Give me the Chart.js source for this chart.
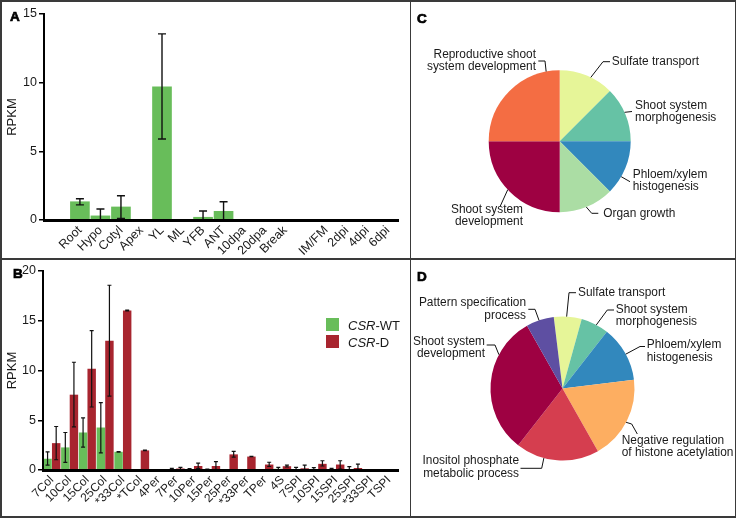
<!DOCTYPE html>
<html>
<head>
<meta charset="utf-8">
<script src="https://cdn.jsdelivr.net/npm/chart.js@4"></script>
<style>
  body { margin: 0; background: #fff; }
  #fig { position: relative; width: 737px; height: 519px; font-family: "Liberation Sans", Arial, sans-serif; color: #1a1a1a; }
  #fig canvas { position: absolute; }
  .rule { position: absolute; background: #3a3a3a; }
  .letter { position: absolute; font-weight: 900; font-size: 13.5px; line-height: 13px; -webkit-text-stroke: 0.7px #000; color: #000; }
  .key { position: absolute; font-size: 13px; line-height: 13px; }
  .key i { font-style: italic; }
  .swatch { position: absolute; width: 13px; height: 13px; }
</style>
</head>
<body>
<div id="fig">
  <canvas id="chartA" width="409" height="258" style="left:0;top:0"></canvas>
  <canvas id="chartB" width="409" height="258" style="left:0;top:259px"></canvas>
  <canvas id="chartC" width="324" height="258" style="left:411px;top:0"></canvas>
  <canvas id="chartD" width="324" height="258" style="left:411px;top:259px"></canvas>

  <div class="rule" style="left:0;top:0;width:736px;height:1.5px"></div>
  <div class="rule" style="left:0;top:0;width:1.5px;height:518px"></div>
  <div class="rule" style="left:734.5px;top:0;width:1.5px;height:518px"></div>
  <div class="rule" style="left:0;top:516px;width:736px;height:1.5px"></div>
  <div class="rule" style="left:409.5px;top:0;width:1.5px;height:518px"></div>
  <div class="rule" style="left:0;top:258px;width:736px;height:1.5px"></div>

  <div class="letter" style="left:10px;top:9.5px">A</div>
  <div class="letter" style="left:13px;top:266.5px">B</div>
  <div class="letter" style="left:417px;top:11.5px">C</div>
  <div class="letter" style="left:417px;top:270px">D</div>

  <div class="swatch" style="left:326px;top:318px;background:#68bd5a"></div>
  <div class="key" style="left:348px;top:318.5px"><i>CSR</i>-WT</div>
  <div class="swatch" style="left:326px;top:335px;background:#a8252f"></div>
  <div class="key" style="left:348px;top:335.5px"><i>CSR</i>-D</div>
</div>

<script>
// panel A: expression across tissues
const tissues = ['Root', 'Hypo', 'Cotyl', 'Apex', 'YL', 'ML', 'YFB', 'ANT', '10dpa', '20dpa', 'Break', '', 'IM/FM', '2dpi', '4dpi', '6dpi'];
const tissueValues = [1.33, 0.3, 0.95, 0, 9.7, 0, 0.2, 0.63, 0, 0, 0, 0, 0, 0, 0, 0];
const tissueLow = [1.1, 0, 0.12, null, 5.9, null, 0, 0, null, null, null, null, null, null, null, null];
const tissueHigh = [1.55, 0.8, 1.77, null, 13.55, null, 0.65, 1.33, null, null, null, null, null, null, null, null];
const rpkmTicksA = [0, 5, 10, 15];

// panel B: stages, CSR-WT vs CSR-D
const stages = ['7Col', '10Col', '15Col', '25Col', '*33Col', '*TCol', '4Per', '7Per', '10Per', '15Per', '25Per', '*33Per', 'TPer', '4S', '7SPI', '10SPI', '15SPI', '25SPI', '*33SPI', 'TSPI'];
const wtValues = [1.13, 2.27, 3.77, 4.27, 1.83, 0, 0.03, 0.05, 0.1, 0.05, 0.03, 0, 0, 0.12, 0.05, 0.05, 0.08, 0.05, 0, 0];
const wtLow = [0.5, 0.77, 2.3, 1.73, 1.8, null, null, 0, 0, 0, null, null, null, 0, 0, 0, 0, 0, null, null];
const wtHigh = [1.83, 3.77, 5.23, 6.77, 1.86, null, null, 0.17, 0.13, 0.1, null, null, null, 0.27, 0.27, 0.23, 0.17, 0.33, null, null];
const dValues = [2.7, 7.57, 10.17, 13.0, 16.03, 1.97, 0, 0.15, 0.4, 0.4, 1.57, 1.35, 0.55, 0.38, 0.17, 0.62, 0.55, 0.2, 0, 0];
const dLow = [1.03, 4.33, 6.33, 7.43, 16.0, 1.95, null, 0.05, 0.15, 0, 1.3, 1.33, 0.35, 0.3, 0, 0.4, 0.08, 0, null, null];
const dHigh = [4.37, 10.83, 14.0, 18.57, 16.06, 2.0, null, 0.27, 0.7, 0.85, 1.87, 1.37, 0.78, 0.48, 0.5, 0.93, 0.93, 0.6, null, null];
const rpkmTicksB = [0, 5, 10, 15, 20];

// panel C and D: GO terms
const termsC = ['Sulfate transport', 'Shoot system morphogenesis', 'Phloem/xylem histogenesis', 'Organ growth', 'Shoot system development', 'Reproductive shoot system development'];
const countsC = [1, 1, 1, 1, 2, 2];
const termsD = ['Sulfate transport', 'Shoot system morphogenesis', 'Phloem/xylem histogenesis', 'Negative regulation of histone acetylation', 'Inositol phosphate metabolic process', 'Shoot system development', 'Pattern specification process'];
const countsD = [1, 1, 2, 3, 3, 5, 1];

const GREEN = '#68bd5a';
const RED = '#a8252f';
const INK = '#1a1a1a';
const FONT = '"Liberation Sans", Arial, sans-serif';

Chart.defaults.font.family = FONT;
Chart.defaults.color = INK;

// vertical error bars from errLow / errHigh on each dataset
const errorBars = {
    id: 'errorBars',
    afterDatasetsDraw(chart) {
        const ctx = chart.ctx;
        const yScale = chart.scales.y;
        chart.data.datasets.forEach((ds, di) => {
            if (!ds.errLow) return;
            const cap = ds.capWidth / 2;
            chart.getDatasetMeta(di).data.forEach((bar, i) => {
                const lo = ds.errLow[i], hi = ds.errHigh[i];
                if (lo == null || hi == null) return;
                const y1 = yScale.getPixelForValue(lo);
                const y2 = yScale.getPixelForValue(hi);
                ctx.save();
                ctx.strokeStyle = '#111';
                ctx.lineWidth = ds.errWidth;
                ctx.beginPath();
                ctx.moveTo(bar.x, y1); ctx.lineTo(bar.x, y2);
                ctx.moveTo(bar.x - cap, y1); ctx.lineTo(bar.x + cap, y1);
                ctx.moveTo(bar.x - cap, y2); ctx.lineTo(bar.x + cap, y2);
                ctx.stroke();
                ctx.restore();
            });
        });
    }
};

function yAxis(max, ticks, width) {
    return {
        min: 0, max: max,
        afterBuildTicks: s => { s.ticks = ticks.map(v => ({ value: v })); },
        ticks: { font: { size: 12.5 }, padding: 2, color: INK },
        grid: { drawOnChartArea: false, tickLength: 5, color: '#000', lineWidth: 1.5 },
        border: { color: '#000', width: 2, z: 1 },
        title: { display: true, text: 'RPKM', font: { size: 13 }, color: INK, padding: { top: 5, bottom: 0 } },
        afterFit: s => { s.width = width; }
    };
}

new Chart(document.getElementById('chartA'), {
    type: 'bar',
    data: {
        datasets: [{
            data: tissueValues.map((v, i) => ({ x: i, y: v })),
            backgroundColor: GREEN,
            barThickness: 19,
            errLow: tissueLow, errHigh: tissueHigh, capWidth: 8, errWidth: 1.4
        }]
    },
    options: {
        responsive: false,
        animation: false,
        layout: { padding: { top: 14, right: 11, left: 0, bottom: 0 } },
        plugins: { legend: { display: false }, tooltip: { enabled: false } },
        scales: {
            x: {
                type: 'linear', min: -1.75, max: 15.5, offset: false,
                afterBuildTicks: s => { s.ticks = tissues.map((_, i) => ({ value: i })); },
                ticks: { callback: v => tissues[v], autoSkip: false, minRotation: 45, maxRotation: 45, font: { size: 12.5 }, padding: 3, color: INK },
                grid: { display: false, drawTicks: false },
                border: { color: '#000', width: 3, z: 1 },
                afterFit: s => { s.height = 38; }
            },
            y: yAxis(15, rpkmTicksA, 44)
        }
    },
    plugins: [errorBars]
});

new Chart(document.getElementById('chartB'), {
    type: 'bar',
    data: {
        labels: stages,
        datasets: [
            { label: 'CSR-WT', data: wtValues, backgroundColor: GREEN, errLow: wtLow, errHigh: wtHigh, capWidth: 4, errWidth: 1.2 },
            { label: 'CSR-D', data: dValues, backgroundColor: RED, errLow: dLow, errHigh: dHigh, capWidth: 4, errWidth: 1.2 }
        ]
    },
    options: {
        responsive: false,
        animation: false,
        datasets: { bar: { categoryPercentage: 0.97, barPercentage: 0.98 } },
        layout: { padding: { top: 12, right: 11, left: 0, bottom: 0 } },
        plugins: { legend: { display: false }, tooltip: { enabled: false } },
        scales: {
            x: {
                ticks: { autoSkip: false, minRotation: 45, maxRotation: 45, font: { size: 12 }, padding: 3, color: INK },
                grid: { display: false, drawTicks: false },
                border: { color: '#000', width: 3, z: 1 },
                afterFit: s => { s.height = 47; }
            },
            y: yAxis(20, rpkmTicksB, 43)
        }
    },
    plugins: [errorBars]
});

// text + leader line for each slice, placed relative to the pie centre
const callouts = {
    id: 'callouts',
    afterDatasetsDraw(chart, args, opts) {
        const ctx = chart.ctx;
        const arc = chart.getDatasetMeta(0).data[0];
        const cx = arc.x, cy = arc.y, r = arc.outerRadius;
        const terms = chart.data.labels;
        ctx.save();
        ctx.fillStyle = INK;
        ctx.strokeStyle = '#111';
        ctx.lineWidth = 1;
        opts.items.forEach(item => {
            const words = terms[item.index].split(' ');
            const lines = item.split ? [words.slice(0, item.split).join(' '), words.slice(item.split).join(' ')] : [words.join(' ')];
            lines.forEach((line, k) => {
                // slightly taller glyphs, like the source figure
                ctx.save();
                ctx.translate(cx + item.tx, cy + item.ty + k * 12.5);
                ctx.scale(1, 1.1);
                ctx.font = '11.9px ' + FONT;
                ctx.textAlign = item.align;
                ctx.textBaseline = 'middle';
                ctx.fillText(line, 0, 0);
                ctx.restore();
            });
            const a = item.edge * Math.PI / 180;
            ctx.beginPath();
            item.leader.forEach(([dx, dy], k) => k ? ctx.lineTo(cx + dx, cy + dy) : ctx.moveTo(cx + dx, cy + dy));
            ctx.lineTo(cx + r * Math.sin(a), cy - r * Math.cos(a));
            ctx.stroke();
        });
        ctx.restore();
    }
};

function pie(id, terms, counts, colors, rotation, padding, items) {
    new Chart(document.getElementById(id), {
        type: 'pie',
        data: { labels: terms, datasets: [{ data: counts, backgroundColor: colors, borderWidth: 0, hoverBorderWidth: 0, hoverOffset: 0 }] },
        options: {
            responsive: false,
            animation: false,
            rotation: rotation,
            layout: { padding: padding },
            plugins: { legend: { display: false }, tooltip: { enabled: false }, callouts: { items: items } }
        },
        plugins: [callouts]
    });
}

pie('chartC', termsC, countsC,
    ['#e6f598', '#66c2a5', '#3288bd', '#abdda4', '#9e0142', '#f46d43'], 0,
    { left: 77.7, right: 104.3, top: 70.2, bottom: 45.8 },
    [
        { index: 5, split: 2, align: 'right', tx: -23.7, ty: -87, leader: [[-21.4, -80.2], [-14.7, -80.2]], edge: 349 },
        { index: 0, split: 0, align: 'left', tx: 52, ty: -79.5, leader: [[50.3, -79.5], [43.3, -79.5]], edge: 26 },
        { index: 1, split: 2, align: 'left', tx: 75.3, ty: -36.2, leader: [[72.3, -29.7]], edge: 66 },
        { index: 2, split: 1, align: 'left', tx: 73, ty: 32.8, leader: [[70.3, 40.5]], edge: 120 },
        { index: 3, split: 0, align: 'left', tx: 43.6, ty: 72.1, leader: [[38.6, 72.1], [32, 72.1]], edge: 158 },
        { index: 4, split: 2, align: 'right', tx: -36.7, ty: 68.1, leader: [[-59.7, 65.5]], edge: 227 }
    ]);

pie('chartD', termsD, countsD,
    ['#e6f598', '#66c2a5', '#3288bd', '#fdae61', '#d53e4f', '#9e0142', '#5e4fa2'], -7,
    { left: 79.5, right: 100.5, top: 57.5, bottom: 56.5 },
    [
        { index: 0, split: 0, align: 'left', tx: 15.5, ty: -95.8, leader: [[13.5, -95.8], [6.5, -95.8]], edge: 3.3 },
        { index: 1, split: 2, align: 'left', tx: 53.2, ty: -79.2, leader: [[51.5, -78.5], [44.8, -78.5]], edge: 28 },
        { index: 2, split: 1, align: 'left', tx: 84.2, ty: -43.8, leader: [[82.5, -42], [77.5, -42]], edge: 61.5 },
        { index: 3, split: 2, align: 'left', tx: 59.2, ty: 51.5, leader: [[74.8, 45.5], [69.2, 35.5]], edge: 118 },
        { index: 4, split: 2, align: 'right', tx: -43.5, ty: 72.2, leader: [[-42, 79.8], [-20.8, 79.8]], edge: 195 },
        { index: 5, split: 2, align: 'right', tx: -77.5, ty: -47.5, leader: [[-75.8, -43.5], [-67.5, -43.5]], edge: 298 },
        { index: 6, split: 2, align: 'right', tx: -36.5, ty: -86, leader: [[-34.2, -79.2], [-27.5, -79.2]], edge: 341 }
    ]);
</script>
</body>
</html>
